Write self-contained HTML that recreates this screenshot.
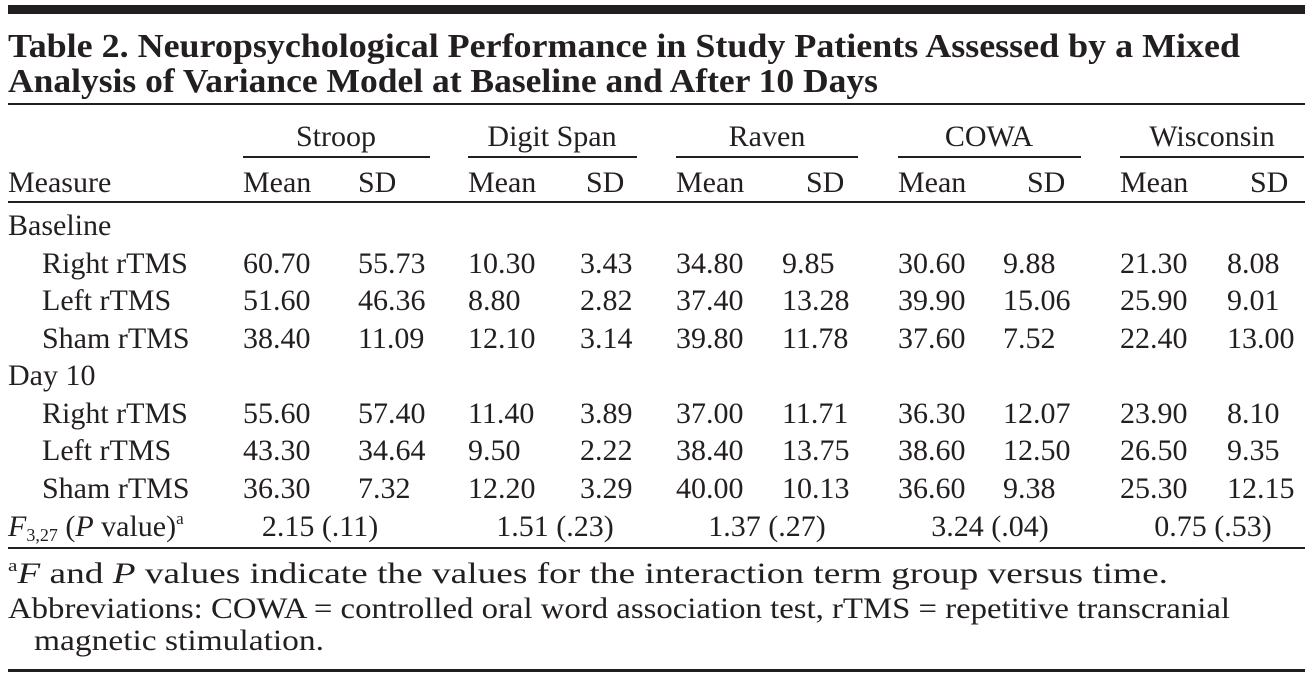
<!DOCTYPE html>
<html><head><meta charset="utf-8"><style>
html,body{margin:0;padding:0;background:#fff;}
svg{display:block;}
text{font-family:"Liberation Serif",serif;fill:#231f20;}
</style></head><body>
<svg width="1313" height="674" viewBox="0 0 1313 674" xmlns="http://www.w3.org/2000/svg">
<rect x="8" y="5" width="1297" height="9" fill="#231f20"/>
<g font-weight="bold" font-size="34">
<text x="8" y="57" textLength="1232" lengthAdjust="spacingAndGlyphs">Table 2. Neuropsychological Performance in Study Patients Assessed by a Mixed</text>
<text x="8" y="92" textLength="870" lengthAdjust="spacingAndGlyphs">Analysis of Variance Model at Baseline and After 10 Days</text>
</g>
<rect x="8" y="103" width="1297" height="2" fill="#231f20"/>
<g font-size="30" text-anchor="middle">
<text x="336" y="146">Stroop</text>
<text x="552" y="146">Digit Span</text>
<text x="767" y="146">Raven</text>
<text x="989" y="146">COWA</text>
<text x="1212" y="146">Wisconsin</text>
</g>
<g fill="#231f20">
<rect x="243" y="156" width="187" height="2"/>
<rect x="468" y="156" width="169" height="2"/>
<rect x="676" y="156" width="182" height="2"/>
<rect x="898" y="156" width="183" height="2"/>
<rect x="1120" y="156" width="184" height="2"/>
</g>
<g font-size="30">
<text x="8" y="192">Measure</text>
<text x="243" y="192">Mean</text><text x="358" y="192">SD</text>
<text x="468" y="192">Mean</text><text x="586" y="192">SD</text>
<text x="676" y="192">Mean</text><text x="806" y="192">SD</text>
<text x="898" y="192">Mean</text><text x="1027" y="192">SD</text>
<text x="1120" y="192">Mean</text><text x="1250" y="192">SD</text>
</g>
<rect x="8" y="201" width="1297" height="2" fill="#231f20"/>
<g font-size="30">
<text x="8" y="235">Baseline</text>
<text x="8" y="385">Day 10</text>
<text x="42" y="273">Right rTMS</text>
<text x="42" y="310">Left rTMS</text>
<text x="42" y="348">Sham rTMS</text>
<text x="42" y="423">Right rTMS</text>
<text x="42" y="460">Left rTMS</text>
<text x="42" y="498">Sham rTMS</text>
</g>
<g font-size="30">
<text x="243" y="273">60.70</text><text x="468" y="273">10.30</text><text x="676" y="273">34.80</text><text x="898" y="273">30.60</text><text x="1120" y="273">21.30</text>
<text x="243" y="310">51.60</text><text x="468" y="310">8.80</text><text x="676" y="310">37.40</text><text x="898" y="310">39.90</text><text x="1120" y="310">25.90</text>
<text x="243" y="348">38.40</text><text x="468" y="348">12.10</text><text x="676" y="348">39.80</text><text x="898" y="348">37.60</text><text x="1120" y="348">22.40</text>
<text x="243" y="423">55.60</text><text x="468" y="423">11.40</text><text x="676" y="423">37.00</text><text x="898" y="423">36.30</text><text x="1120" y="423">23.90</text>
<text x="243" y="460">43.30</text><text x="468" y="460">9.50</text><text x="676" y="460">38.40</text><text x="898" y="460">38.60</text><text x="1120" y="460">26.50</text>
<text x="243" y="498">36.30</text><text x="468" y="498">12.20</text><text x="676" y="498">40.00</text><text x="898" y="498">36.60</text><text x="1120" y="498">25.30</text>

<text x="358" y="273">55.73</text><text x="580" y="273">3.43</text><text x="782" y="273">9.85</text><text x="1003" y="273">9.88</text><text x="1227" y="273">8.08</text>
<text x="358" y="310">46.36</text><text x="580" y="310">2.82</text><text x="782" y="310">13.28</text><text x="1003" y="310">15.06</text><text x="1227" y="310">9.01</text>
<text x="358" y="348">11.09</text><text x="580" y="348">3.14</text><text x="782" y="348">11.78</text><text x="1003" y="348">7.52</text><text x="1227" y="348">13.00</text>
<text x="358" y="423">57.40</text><text x="580" y="423">3.89</text><text x="782" y="423">11.71</text><text x="1003" y="423">12.07</text><text x="1227" y="423">8.10</text>
<text x="358" y="460">34.64</text><text x="580" y="460">2.22</text><text x="782" y="460">13.75</text><text x="1003" y="460">12.50</text><text x="1227" y="460">9.35</text>
<text x="358" y="498">7.32</text><text x="580" y="498">3.29</text><text x="782" y="498">10.13</text><text x="1003" y="498">9.38</text><text x="1227" y="498">12.15</text>

<text x="8" y="536"><tspan font-style="italic">F</tspan><tspan font-size="18" dy="5">3,27</tspan><tspan dy="-5"> (</tspan><tspan font-style="italic">P</tspan> value)<tspan font-size="17" dy="-12">a</tspan></text>
<g text-anchor="middle">
<text x="320" y="536">2.15 (.11)</text>
<text x="555" y="536">1.51 (.23)</text>
<text x="767" y="536">1.37 (.27)</text>
<text x="990" y="536">3.24 (.04)</text>
<text x="1213" y="536">0.75 (.53)</text>
</g>
</g>
<rect x="8" y="547" width="1297" height="2" fill="#231f20"/>
<g font-size="30">
<text x="8" y="583" textLength="1160" lengthAdjust="spacingAndGlyphs"><tspan font-size="17" dy="-12">a</tspan><tspan dy="12" font-style="italic">F</tspan> and <tspan font-style="italic">P</tspan> values indicate the values for the interaction term group versus time.</text>
<text x="8" y="618" textLength="1222" lengthAdjust="spacingAndGlyphs">Abbreviations: COWA = controlled oral word association test, rTMS = repetitive transcranial</text>
<text x="34" y="650" textLength="290" lengthAdjust="spacingAndGlyphs">magnetic stimulation.</text>
</g>
<rect x="8" y="669" width="1297" height="3" fill="#231f20"/>
</svg>
</body></html>
